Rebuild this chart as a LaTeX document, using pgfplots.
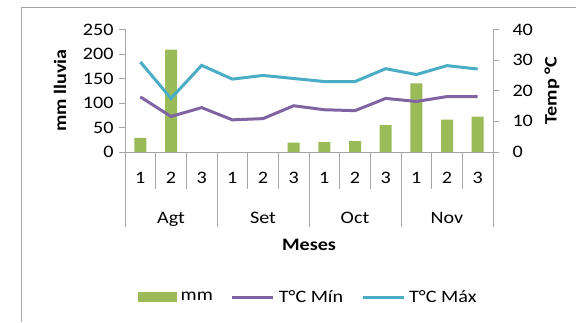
\documentclass[border=0pt]{standalone}
\usepackage{fontspec}
\setmainfont{Carlito}[FakeStretch=1.15]
\usepackage{pgfplots}
\pgfplotsset{compat=1.18}
\definecolor{barG}{HTML}{9BBB59}
\definecolor{minP}{HTML}{8064A2}
\definecolor{maxC}{HTML}{4BACC6}
\definecolor{axG}{HTML}{A6A6A6}
\begin{document}
\begin{tikzpicture}[x=1bp,y=1bp,font=\fontsize{17.5bp}{20bp}\selectfont]
\useasboundingbox (0,0) rectangle (576,322);
\draw[axG, line width=1bp] (21,0) -- (21,314.5) -- (576,314.5);
\pgfplotsset{
  base/.style={
    at={(125bp,170bp)}, anchor=south west, scale only axis,
    width=368bp, height=122.5bp, xmin=-0.5, xmax=11.5,
    /pgf/number format/assume math mode=true,
    tick align=outside, axis line style={axG, line width=0.8bp},
    tick style={axG, line width=0.8bp},
    tick label style={font=\fontsize{17.5bp}{20bp}\selectfont, text=black},
    label style={font=\fontsize{17.5bp}{20bp}\selectfont\bfseries},
  }
}
% bars, left axis
\begin{axis}[base, ymin=0, ymax=250,
  axis x line=none, axis y line*=left,
  ytick={0,50,...,250}, major tick length=6bp,
  ylabel={mm lluvia},
  ylabel style={at={(axis description cs:-0.1766,0.5)}, anchor=center},
  yticklabel style={xshift=-2bp}]
\addplot[ybar, bar width=12bp, fill=barG, draw=none] coordinates {
(0,29) (1,209) (2,0) (3,0) (4,0) (5,19) (6,20) (7,22) (8,55) (9,140) (10,66) (11,72)};
\end{axis}
% lines, right axis
\begin{axis}[base, ymin=0, ymax=40,
  axis x line=none, axis y line*=right,
  ytick={0,10,...,40}, major tick length=6bp,
  ylabel={Temp °C},
  ylabel style={at={(axis description cs:1.1603,0.5)}, anchor=center},
  yticklabel style={xshift=10bp},
  legend style={at={(axis description cs:0.497,-1.1837)}, anchor=center, draw=none,
    fill=none, legend columns=-1, font=\fontsize{17.5bp}{20bp}\selectfont,
    nodes={inner sep=1bp},
    /tikz/every odd column/.append style={column sep=3bp},
    /tikz/every even column/.append style={column sep=17bp}},
  legend image code/.code={\draw[#1] (0bp,0bp) -- (41bp,0bp);}]
\addlegendimage{legend image code/.code={\fill[barG] (0bp,-4.5bp) rectangle (38bp,4.5bp);}}
\addlegendentry{mm}
\addplot[minP, line width=3bp] coordinates {
(0,18.0) (1,11.6) (2,14.5) (3,10.5) (4,10.9) (5,15.1) (6,13.8) (7,13.5) (8,17.5) (9,16.5) (10,18.1) (11,18.1)};
\addlegendentry{T°C Mín}
\addplot[maxC, line width=3bp] coordinates {
(0,29.4) (1,17.5) (2,28.3) (3,23.8) (4,25.0) (5,24.0) (6,23.0) (7,23.0) (8,27.2) (9,25.3) (10,28.2) (11,27.1)};
\addlegendentry{T°C Máx}
\end{axis}
% month separators
\begin{axis}[base, ymin=0, ymax=1,
  axis y line=none, axis x line*=bottom,
  xtick={-0.5,2.5,5.5,8.5,11.5}, xticklabels={},
  major tick length=75bp]
\end{axis}
% category axis
\begin{axis}[base, ymin=0, ymax=1, clip=false,
  axis y line=none, axis x line*=bottom,
  xtick={-0.5,0.5,...,11.5}, x tick label as interval,
  xticklabels={1,2,3,1,2,3,1,2,3,1,2,3},
  major tick length=37bp,
  xticklabel style={anchor=base, yshift=5.6bp},
  xlabel={Meses},
  xlabel style={at={(axis description cs:0.5,0)}, anchor=base, yshift=-98bp}]
\node[anchor=base, font=\fontsize{17.5bp}{20bp}\selectfont] at (axis cs:1,0) [yshift=-71bp] {Agt};
\node[anchor=base, font=\fontsize{17.5bp}{20bp}\selectfont] at (axis cs:4,0) [yshift=-71bp] {Set};
\node[anchor=base, font=\fontsize{17.5bp}{20bp}\selectfont] at (axis cs:7,0) [yshift=-71bp] {Oct};
\node[anchor=base, font=\fontsize{17.5bp}{20bp}\selectfont] at (axis cs:10,0) [yshift=-71bp] {Nov};
\end{axis}
\end{tikzpicture}
\end{document}
